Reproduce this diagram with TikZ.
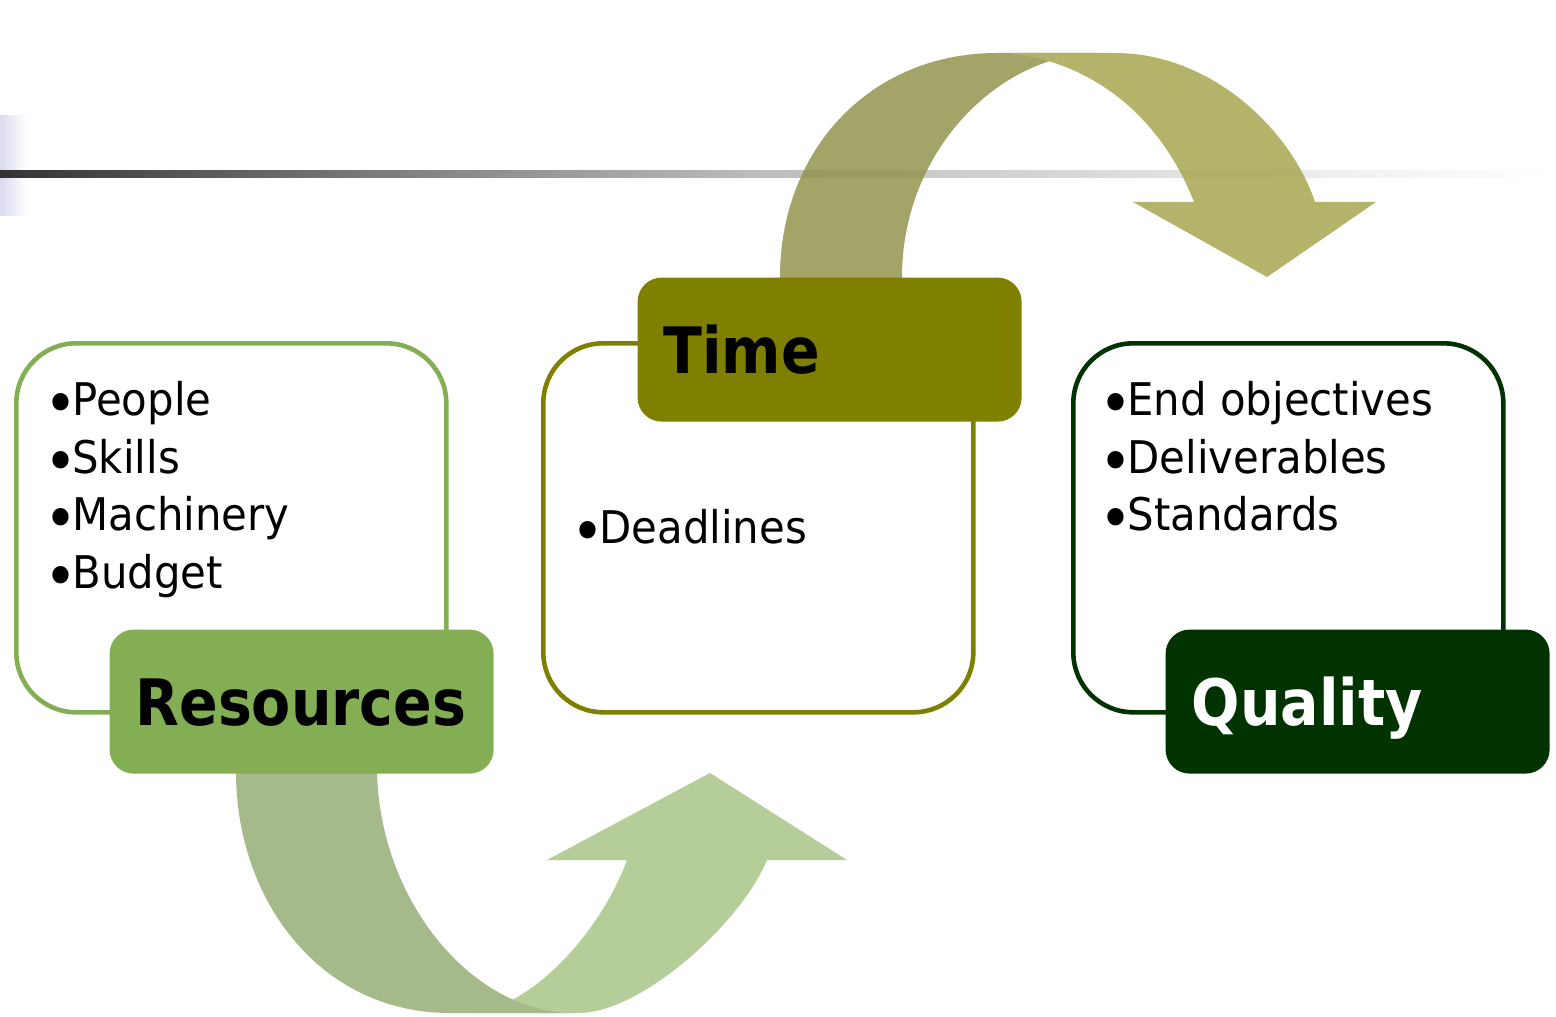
\documentclass[tikz,border=0pt]{standalone}
\usepackage{fontspec}
\setmainfont{DejaVu Sans}
\newfontfamily\itemfont{DejaVu Sans}[FakeStretch=0.93]
\newfontfamily\headfont{DejaVu Sans}[FakeStretch=0.89]
\usetikzlibrary{positioning}

\definecolor{resgreen}{RGB}{132,174,83}
\definecolor{timeolive}{RGB}{128,128,0}
\definecolor{qualgreen}{RGB}{0,51,0}
\definecolor{lowdark}{RGB}{166,185,138}
\definecolor{lowlight}{RGB}{181,205,152}
\definecolor{topdark}{RGB}{147,148,77}
\definecolor{toplight}{RGB}{166,167,80}
\definecolor{lavender}{RGB}{218,218,240}
\pgfdeclarehorizontalshading{rulefade}{100bp}{color(0bp)=(black!80); color(25bp)=(black!80);
  color(37.85bp)=(black!50); color(49.4bp)=(black!26); color(70bp)=(black!4);
  color(75bp)=(white); color(100bp)=(white)}
\newcommand\itembullet{\kern-0.08em\raisebox{-0.2em}{\fontsize{30}{30}\selectfont •}\kern-0.1em}

\begin{document}
\begin{tikzpicture}[x=0.5pt,y=-0.5pt,semithick]
  \tikzstyle{frame}=[draw,line width=2.3pt,rounded corners=30pt,minimum width=215pt,
                     minimum height=184.5pt,anchor=north west,inner sep=0pt]
  \tikzstyle{tag}=[rounded corners=12pt,anchor=north west,text width=166pt,inner xsep=13pt,
                   minimum height=72pt,align=left,text height=23.5pt,text depth=0pt,
                   font=\headfont\bfseries\fontsize{32}{38}\selectfont]
  \tikzstyle{items}=[anchor=north west,inner sep=0pt,align=left,
                     font=\itemfont\fontsize{22.5}{28.75}\selectfont]

  \useasboundingbox (0,0) rectangle (1556,1016);

  % rule at the top
  \shade[left color=lavender,right color=white] (0,116) rectangle (27,216);
  \shade[shading=rulefade] (0,171) rectangle (1556,178);

  % arrow from Time over to Quality
  \begin{scope}[transparency group,opacity=0.85]
    \fill[topdark] (780,300) -- (780,277) .. controls (780,150) and (870,53) .. (997,53)
      -- (1100,53) .. controls (1000,53) and (902,150) .. (902,277) -- (902,300) -- cycle;
    \fill[toplight] (1005,53) -- (1115,53) .. controls (1210,53) and (1290,128) .. (1315,202)
      -- (1376,202) -- (1267,277) -- (1133,202) -- (1194,202)
      .. controls (1160,115) and (1090,60) .. (1005,53) -- cycle;
  \end{scope}

  % arrow from Resources up to Time
  \fill[lowlight] (547,860) -- (710,773) -- (847,860) -- (767,860)
    .. controls (740,925) and (640,1013) .. (579,1013) -- (470,1013) -- (506,1003)
    .. controls (555,980) and (605,920) .. (627,860) -- cycle;
  \fill[lowdark] (236,760) -- (236,772) .. controls (236,900) and (320,1013) .. (450,1013)
    -- (570,1013) .. controls (470,1010) and (380,900) .. (377,772) -- (377,760) -- cycle;

  \node[frame,draw=resgreen]  (resbox)  at (14,341)   {};
  \node[frame,draw=timeolive] (timebox) at (541,341)  {};
  \node[frame,draw=qualgreen] (qualbox) at (1071,341) {};

  \node[tag,fill=resgreen]             (restag)  at (109,629)  {Resources};
  \node[tag,fill=timeolive]            (timetag) at (637,277)  {Time};
  \node[tag,fill=qualgreen,text=white] (qualtag) at (1165,629) {Quality};

  \node[items] (resitems)  at (47,381)   {\itembullet People\\\itembullet Skills\\
                                          \itembullet Machinery\\\itembullet Budget};
  \node[items] (timeitems) at (574,509)  {\itembullet Deadlines};
  \node[items] (qualitems) at (1102,381) {\itembullet End objectives\\\itembullet Deliverables\\
                                          \itembullet Standards};

\end{tikzpicture}
\end{document}
